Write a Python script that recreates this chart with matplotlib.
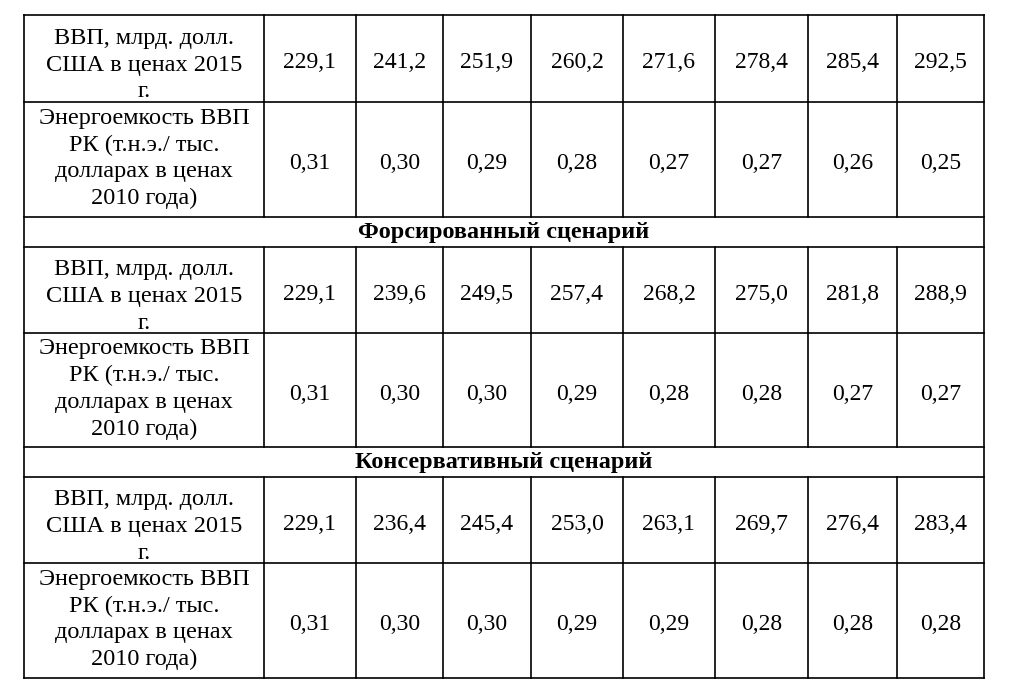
import matplotlib
matplotlib.use("Agg")
import matplotlib.pyplot as plt

# данные таблицы
label_gdp = "ВВП, млрд. долл.\nСША в ценах 2015\nг."
label_int = "Энергоемкость ВВП\nРК (т.н.э./ тыс.\nдолларах в ценах\n2010 года)"

base_gdp = [229.1, 241.2, 251.9, 260.2, 271.6, 278.4, 285.4, 292.5]
base_int = [0.31, 0.30, 0.29, 0.28, 0.27, 0.27, 0.26, 0.25]

forced_title = "Форсированный сценарий"
forced_gdp = [229.1, 239.6, 249.5, 257.4, 268.2, 275.0, 281.8, 288.9]
forced_int = [0.31, 0.30, 0.30, 0.29, 0.28, 0.28, 0.27, 0.27]

cons_title = "Консервативный сценарий"
cons_gdp = [229.1, 236.4, 245.4, 253.0, 263.1, 269.7, 276.4, 283.4]
cons_int = [0.31, 0.30, 0.30, 0.29, 0.29, 0.28, 0.28, 0.28]

rows = [
    ("data", label_gdp, [f"{v:.1f}".replace(".", ",") for v in base_gdp]),
    ("data", label_int, [f"{v:.2f}".replace(".", ",") for v in base_int]),
    ("head", forced_title, None),
    ("data", label_gdp, [f"{v:.1f}".replace(".", ",") for v in forced_gdp]),
    ("data", label_int, [f"{v:.2f}".replace(".", ",") for v in forced_int]),
    ("head", cons_title, None),
    ("data", label_gdp, [f"{v:.1f}".replace(".", ",") for v in cons_gdp]),
    ("data", label_int, [f"{v:.2f}".replace(".", ",") for v in cons_int]),
]

# сетка таблицы в пикселях
col_x = [24, 264, 356, 443, 531, 623, 715, 808, 897, 984]
row_y = [15, 102, 217, 247, 333, 447, 477, 563, 678]

plt.rcParams["font.family"] = ["Liberation Serif", "DejaVu Serif"]

fig = plt.figure(figsize=(10.2, 6.89), dpi=100)
ax = fig.add_axes([0, 0, 1, 1])
ax.set_xlim(0, 1020)
ax.set_ylim(689, 0)
ax.axis("off")

lw = 1.2
for y in row_y:
    ax.plot([col_x[0], col_x[-1]], [y, y], color="black", lw=lw, solid_capstyle="projecting")
ax.plot([col_x[0], col_x[0]], [row_y[0], row_y[-1]], color="black", lw=lw)
ax.plot([col_x[-1], col_x[-1]], [row_y[0], row_y[-1]], color="black", lw=lw)

for i, (kind, label, vals) in enumerate(rows):
    y0, y1 = row_y[i], row_y[i + 1]
    yc = (y0 + y1) / 2
    if kind == "head":
        ax.text((col_x[0] + col_x[-1]) / 2, yc + 0.5, label, ha="center", va="center",
                fontsize=17.5, fontweight="bold")
        continue
    for x in col_x[1:-1]:
        ax.plot([x, x], [y0, y1], color="black", lw=lw)
    shift = 6.5 if label.count("\n") == 2 else -1
    ax.text((col_x[0] + col_x[1]) / 2, yc + shift, label, ha="center", va="center",
            fontsize=17.5, linespacing=1.36, multialignment="center")
    for j, v in enumerate(vals):
        ax.text((col_x[j + 1] + col_x[j + 2]) / 2, yc + 4, v, ha="center", va="center",
                fontsize=17)

fig.savefig("out.png", dpi=100, facecolor="white")
